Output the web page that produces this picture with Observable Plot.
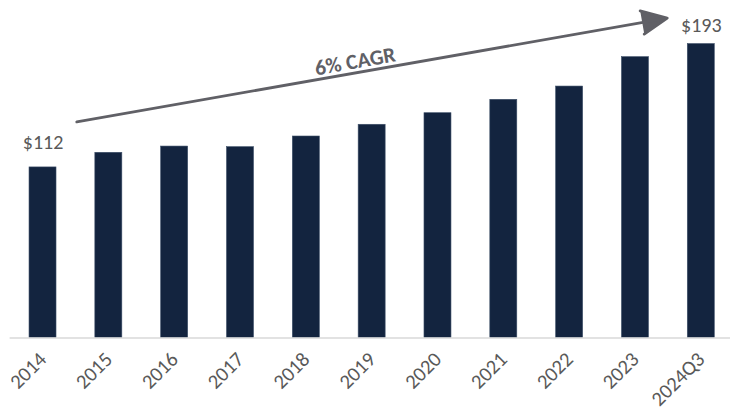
<!DOCTYPE html>
<html>
<head>
<meta charset="utf-8">
<script src="https://cdn.jsdelivr.net/npm/d3@7"></script>
<script src="https://cdn.jsdelivr.net/npm/@observablehq/plot@0.6"></script>
<style>
  html, body { margin: 0; padding: 0; background: #fff; }
  #chart svg { display: block; }
</style>
</head>
<body>
<div id="chart"></div>
<script>
const years = ["2014","2015","2016","2017","2018","2019","2020","2021","2022","2023","2024Q3"];
const values = [112, 121.6, 125.7, 125.3, 132.3, 140.0, 147.6, 156.4, 165.1, 184.4, 193];
const firstLabelYear = "2014", lastLabelYear = "2024Q3";
const cagrLabel = "6% CAGR";
const arrowFrom = "2014", arrowTo = "2024Q3";
const arrowFromValue = 138, arrowToValue = 214;
const cagrLabelYear = "2019", cagrLabelValue = 181.5;

const data = years.map((y, i) => ({year: y, value: values[i]}));
const firstLabel = data.filter(d => d.year === firstLabelYear);
const lastLabel = data.filter(d => d.year === lastLabelYear);

const font = "Carlito, Calibri, Lato, 'Open Sans', sans-serif";
const textColor = "#595959";
const arrowColor = "#606066";

const chart = Plot.plot({
  width: 730,
  height: 411,
  marginLeft: 9.6,
  marginRight: -3.7,
  marginTop: 32.9,
  marginBottom: 73.5,
  style: {fontFamily: font, background: "#fff"},
  x: {domain: years, paddingInner: 0.59, paddingOuter: 0.295, round: false, label: null},
  y: {domain: [0, 200], axis: null},
  marks: [
    Plot.barY(data, {x: "year", y: "value", fill: "#13243f", stroke: "#3d4f68", strokeWidth: 0.6}),
    Plot.ruleY([0], {stroke: "#d9d9d9", strokeWidth: 1.5}),
    Plot.axisX({tickSize: 0, tickPadding: 18, tickRotate: -45, fontSize: 20.5, fill: textColor, label: null}),
    Plot.text(firstLabel, {x: "year", y: "value", text: d => "$" + d.value, lineAnchor: "bottom", dy: -18, fontSize: 20, fill: textColor}),
    Plot.text(lastLabel, {x: "year", y: "value", text: d => "$" + d.value, lineAnchor: "bottom", dy: -12, fontSize: 20, fill: textColor}),
    Plot.arrow([{x1: arrowFrom, x2: arrowTo, y1: arrowFromValue, y2: arrowToValue}], {
      x1: "x1", x2: "x2", y1: "y1", y2: "y2",
      stroke: arrowColor, fill: arrowColor, strokeWidth: 2.8,
      headLength: 15, headAngle: 50, insetStart: 34.3, insetEnd: 34.6
    }),
    Plot.text([{x: cagrLabelYear, y: cagrLabelValue, t: cagrLabel}], {
      x: "x", y: "y", text: "t", rotate: -10.05, dx: -17, fontSize: 21.5, fontWeight: "bold", fill: arrowColor
    })
  ]
});
document.getElementById("chart").appendChild(chart);
</script>
</body>
</html>
